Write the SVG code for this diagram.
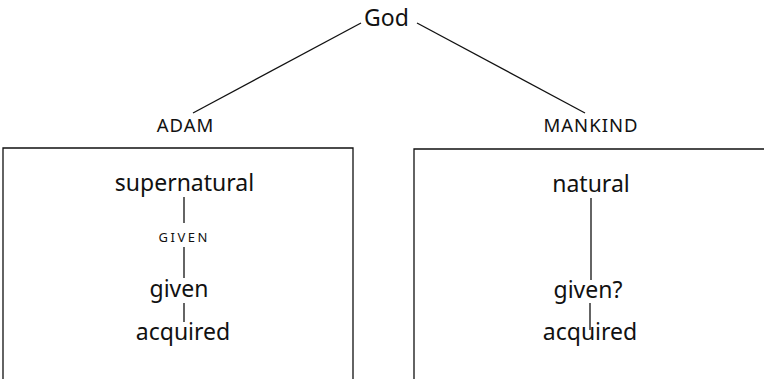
<svg xmlns="http://www.w3.org/2000/svg" width="764" height="379" viewBox="0 0 764 379">
<style>
text{font-family:"Noto Sans","Open Sans",sans-serif;fill:#111;text-anchor:middle}
.big{font-size:23px}
.cap{font-size:18.5px;letter-spacing:1px}
.sm{font-size:13px;letter-spacing:2.5px}
.ln{stroke:#111;stroke-width:1.3;fill:none}
</style>
<rect width="764" height="379" fill="#fff"/>
<g id="god"><text class="big" x="386.5" y="26">God</text></g>
<g id="adam"><text class="cap" x="185.5" y="132">ADAM</text></g>
<g id="mankind"><text class="cap" x="591" y="132">MANKIND</text></g>
<g id="adam-box">
<path class="ln" d="M3,379 V148 H353 V379"/>
<text class="big" x="184.5" y="191">supernatural</text>
<text class="sm" x="184.2" y="242">GIVEN</text>
<text class="big" x="179" y="297">given</text>
<text class="big" x="183" y="340">acquired</text>
</g>
<g id="mankind-box">
<path class="ln" d="M414,379 V149 H764"/>
<text class="big" x="591" y="192">natural</text>
<text class="big" x="588" y="298">given?</text>
<text class="big" x="590" y="340">acquired</text>
</g>
<g id="connectors">
<line class="ln" x1="361" y1="23" x2="193" y2="113"/>
<line class="ln" x1="417" y1="23" x2="585" y2="113"/>
<line class="ln" x1="184" y1="197" x2="184" y2="223"/>
<line class="ln" x1="184" y1="247" x2="184" y2="278"/>
<line class="ln" x1="184" y1="303" x2="184" y2="322"/>
<line class="ln" x1="591" y1="198" x2="591" y2="280"/>
<line class="ln" x1="590" y1="303" x2="590" y2="330"/>
</g>
</svg>
